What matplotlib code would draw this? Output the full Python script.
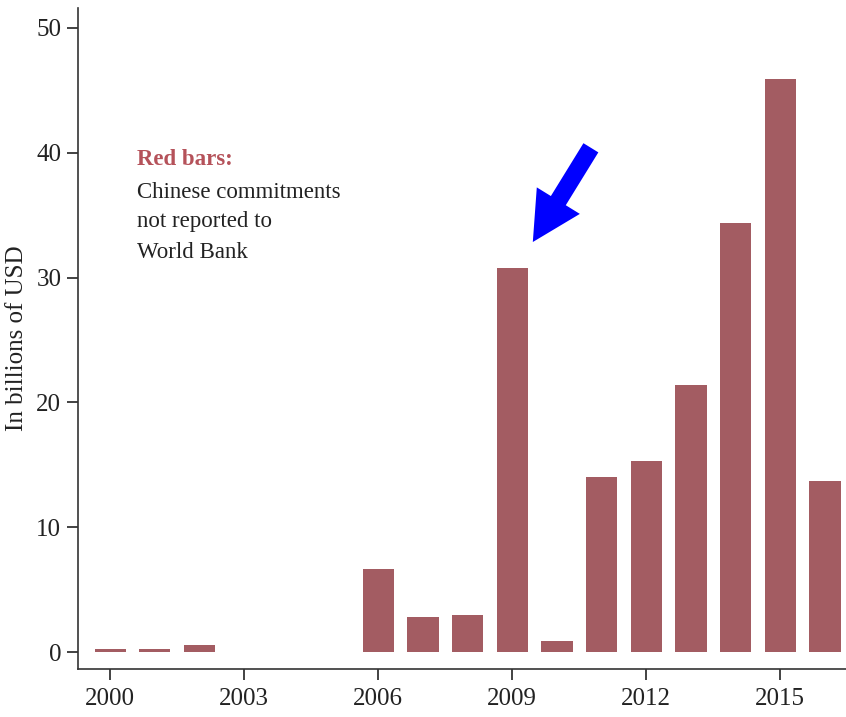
import matplotlib
matplotlib.use("Agg")
import matplotlib.pyplot as plt

years = [2000, 2001, 2002, 2003, 2004, 2005, 2006, 2007, 2008, 2009, 2010, 2011, 2012, 2013, 2014, 2015, 2016]
values = [0.22, 0.22, 0.55, 0, 0, 0, 6.65, 2.8, 2.95, 30.8, 0.88, 14.0, 15.3, 21.4, 34.4, 45.9, 13.7]
xticks = [2000, 2003, 2006, 2009, 2012, 2015]
yticks = [0, 10, 20, 30, 40, 50]
note_title = 'Red bars:'
note_lines = ['Chinese commitments', 'not reported to', 'World Bank']

plt.rcParams['font.family'] = ['Liberation Serif', 'DejaVu Serif']

fig = plt.figure(figsize=(8.46, 7.17), dpi=100)
ax = fig.add_axes([78/846, 1 - 669/717, 1 - 78/846, (669 - 8)/717])

bar_color = '#A35C62'
ax.bar(years, values, width=0.7, color=bar_color)

ax.set_xlim(1999.28, 2016.47)
ax.set_ylim(-1.36, 51.6)
ax.set_xticks(xticks)
ax.set_yticks(yticks)
ax.tick_params(axis='both', labelsize=18, colors='#222222', length=8, width=1.2, direction='out')
ax.tick_params(axis='x', pad=6)
ax.tick_params(axis='y', pad=4)
for s in ['top', 'right']:
    ax.spines[s].set_visible(False)
for s in ['left', 'bottom']:
    ax.spines[s].set_color('#333333')
    ax.spines[s].set_linewidth(1.2)

ax.set_ylabel('In billions of USD', fontsize=18, color='#222222', labelpad=6)

ax.text(2000.6, 39.02, note_title, color='#B5525A', fontsize=16.5, fontweight='bold',
        va='baseline', ha='left')
for yy, line in zip([36.38, 34.05, 31.57], note_lines):
    ax.text(2000.6, yy, line, color='#222222', fontsize=16.5, va='baseline', ha='left')

ax.annotate('', xy=(2009.46, 32.85), xytext=(2010.76, 40.4),
            arrowprops=dict(arrowstyle='simple,head_length=1.25,head_width=1.3,tail_width=0.45',
                            color='#0000FF', lw=0, shrinkA=0, shrinkB=0, mutation_scale=28))

fig.savefig('out.png', dpi=100)
